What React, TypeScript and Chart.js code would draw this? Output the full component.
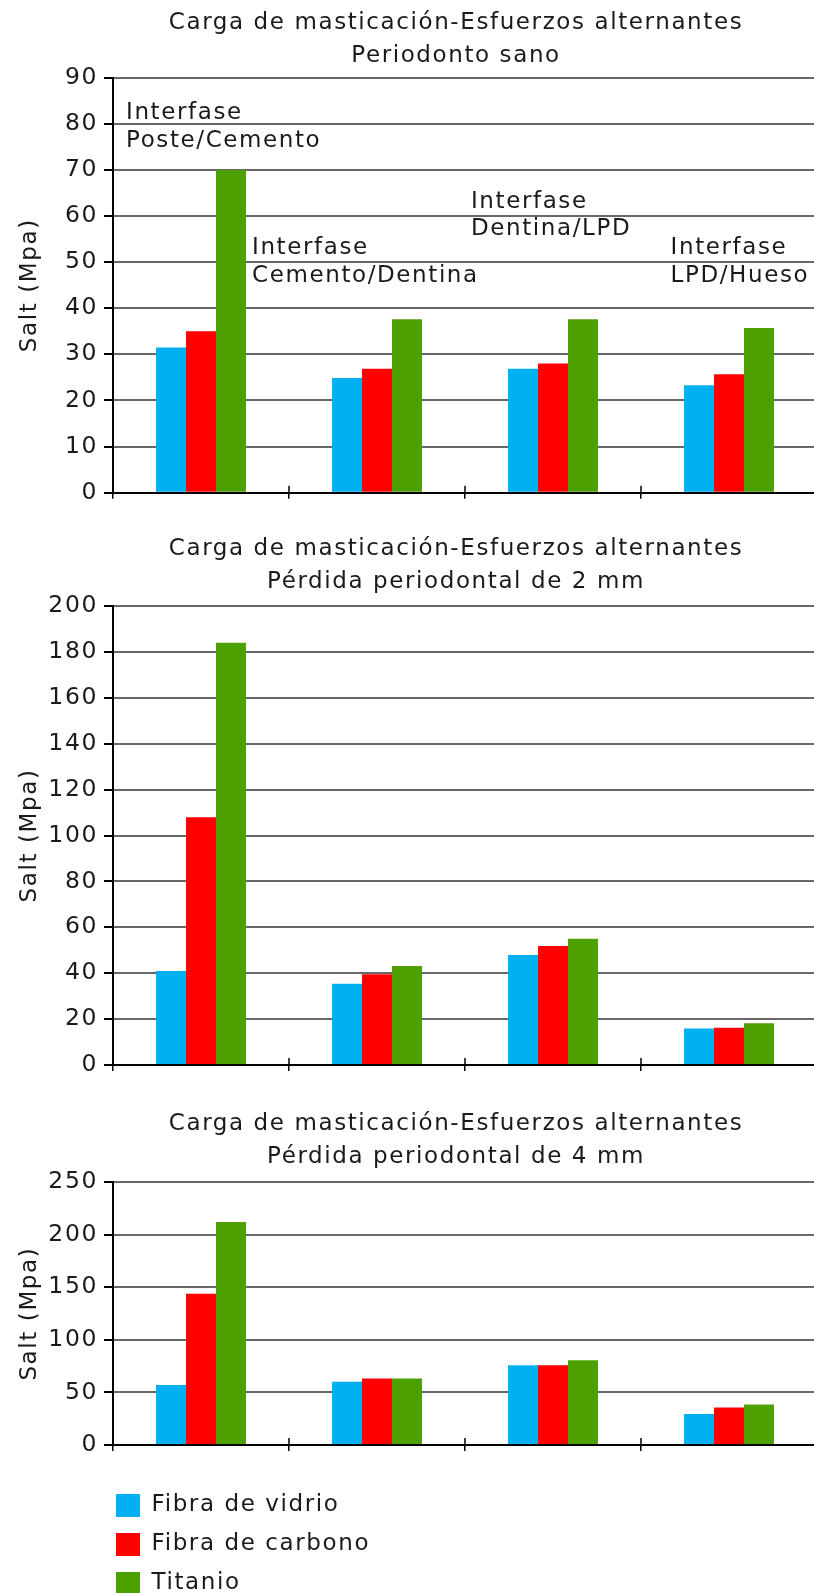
import React, { useEffect, useRef } from 'react';
import { Chart, registerables } from 'chart.js';

Chart.register(...registerables);

// ---- data ----
const categories = [
  'Interfase Poste/Cemento',
  'Interfase Cemento/Dentina',
  'Interfase Dentina/LPD',
  'Interfase LPD/Hueso',
];
const seriesNames = ['Fibra de vidrio', 'Fibra de carbono', 'Titanio'];
const seriesColors = ['#00b0f0', '#ff0000', '#4ca000'];

const mainTitle = 'Carga de masticación-Esfuerzos alternantes';
const subTitles = ['Periodonto sano', 'Pérdida periodontal de 2 mm', 'Pérdida periodontal de 4 mm'];
const yAxisTitle = 'Salt (Mpa)';

const sanoVidrio = [31.5, 24.9, 26.9, 23.3];
const sanoCarbono = [35, 26.9, 28, 25.7];
const sanoTitanio = [70, 37.6, 37.6, 35.7];

const p2Vidrio = [41, 35.4, 47.9, 15.9];
const p2Carbono = [108, 39.5, 51.8, 16.2];
const p2Titanio = [184, 43.1, 55, 18.2];

const p4Vidrio = [57, 60.1, 76, 29.4];
const p4Carbono = [144, 63.3, 76, 35.8];
const p4Titanio = [212.3, 63.3, 80.7, 38.6];

const yMaxes = [90, 200, 250];
const ySteps = [10, 20, 50];

const annotationLines = [
  ['Interfase', 'Poste/Cemento'],
  ['Interfase', 'Cemento/Dentina'],
  ['Interfase', 'Dentina/LPD'],
  ['Interfase', 'LPD/Hueso'],
];
const annotationIndex = [-0.426, 0.29, 1.534, 2.668];
const annotationValue = [81, 51.7, 61.8, 51.7];

// ---- style ----
const FAMILY = '"DejaVu Sans", sans-serif';
const TEXT = '#1a1a1a';
const GRID = '#686868';
const SPACING = '1.6px';
const CANVAS_W = 912;

const spacingPlugin = {
  id: 'letterSpacing',
  beforeLayout(chart: any) {
    chart.ctx.letterSpacing = SPACING;
  },
  beforeDraw(chart: any) {
    chart.ctx.letterSpacing = SPACING;
  },
};

// short tick marks on the category boundaries that cross the x axis line
const crossTickPlugin = {
  id: 'crossTicks',
  afterDraw(chart: any) {
    const { ctx } = chart;
    const x = chart.scales.x;
    const bottom = chart.chartArea.bottom;
    ctx.save();
    ctx.strokeStyle = '#000';
    ctx.lineWidth = 1.5;
    for (let i = 1; i < categories.length; i++) {
      const px = x.getPixelForValue(i - 0.5);
      ctx.beginPath();
      ctx.moveTo(px, bottom - 7);
      ctx.lineTo(px, bottom);
      ctx.stroke();
    }
    ctx.restore();
  },
};

const annotationPlugin = {
  id: 'interfaseLabels',
  afterDatasetsDraw(chart: any) {
    const { ctx } = chart;
    const x = chart.scales.x;
    const y = chart.scales.y;
    ctx.save();
    ctx.font = '23px ' + FAMILY;
    ctx.letterSpacing = SPACING;
    ctx.fillStyle = TEXT;
    ctx.textAlign = 'left';
    ctx.textBaseline = 'alphabetic';
    annotationLines.forEach((lines, i) => {
      const px = x.getPixelForValue(annotationIndex[i]);
      const py = y.getPixelForValue(annotationValue[i]);
      lines.forEach((t, j) => ctx.fillText(t, px, py + j * 27.5));
    });
    ctx.restore();
  },
};

function makeBarChart(
  canvas: HTMLCanvasElement,
  series: number[][],
  sub: string,
  yMax: number,
  yStep: number,
  titleBottom: number,
  xAxisHeight: number,
  extraPlugins: any[]
) {
  return new Chart(canvas, {
    type: 'bar',
    data: {
      labels: categories,
      datasets: series.map((d, i) => ({
        label: seriesNames[i],
        data: d,
        backgroundColor: seriesColors[i],
        borderWidth: 0,
        categoryPercentage: 0.511,
        barPercentage: 1,
      })),
    },
    options: {
      animation: false,
      responsive: false,
      layout: { padding: 0 },
      plugins: {
        legend: { display: false },
        tooltip: { enabled: false },
        title: {
          display: true,
          text: [mainTitle, sub],
          color: TEXT,
          font: { family: FAMILY, size: 23, weight: 'normal', lineHeight: 33 / 23 },
          padding: { top: 6.2, bottom: titleBottom },
        },
      },
      scales: {
        x: {
          ticks: { display: false },
          grid: {
            drawOnChartArea: false,
            offset: true,
            tickLength: 6,
            color: '#000',
            lineWidth: 1.5,
          },
          border: { color: '#000', width: 2 },
          afterFit: (s: any) => {
            s.height = xAxisHeight;
          },
        },
        y: {
          min: 0,
          max: yMax,
          ticks: {
            stepSize: yStep,
            color: TEXT,
            padding: 6,
            font: { family: FAMILY, size: 23.5 },
          },
          grid: {
            color: (c: any) => (c.tick && c.tick.value === 0 ? '#000' : GRID),
            lineWidth: 2,
            tickLength: 9,
            tickColor: '#000',
            tickWidth: 2,
          },
          border: { color: '#000', width: 2 },
          title: {
            display: true,
            text: yAxisTitle,
            color: TEXT,
            font: { family: FAMILY, size: 23, lineHeight: 28 / 23 },
            padding: { top: 16, bottom: 0 },
          },
          afterFit: (s: any) => {
            s.width = 113;
          },
        },
        yRight: {
          position: 'right',
          display: true,
          ticks: { display: false },
          grid: { display: false },
          border: { display: false },
          afterFit: (s: any) => {
            s.width = CANVAS_W - 817;
          },
        },
      },
    } as any,
    plugins: [spacingPlugin, crossTickPlugin, ...extraPlugins],
  });
}

export default function App() {
  const c1 = useRef<HTMLCanvasElement>(null);
  const c2 = useRef<HTMLCanvasElement>(null);
  const c3 = useRef<HTMLCanvasElement>(null);
  const cl = useRef<HTMLCanvasElement>(null);

  useEffect(() => {
    const charts: Chart[] = [];
    charts.push(
      makeBarChart(c1.current!, [sanoVidrio, sanoCarbono, sanoTitanio], subTitles[0], yMaxes[0], ySteps[0], 5.5, 526 - 492.7, [annotationPlugin])
    );
    charts.push(
      makeBarChart(c2.current!, [p2Vidrio, p2Carbono, p2Titanio], subTitles[1], yMaxes[1], ySteps[1], 7.8, 575 - 539, [])
    );
    charts.push(
      makeBarChart(c3.current!, [p4Vidrio, p4Carbono, p4Titanio], subTitles[2], yMaxes[2], ySteps[2], 9.1, 377 - 344, [])
    );
    charts.push(
      new Chart(cl.current!, {
        type: 'bar',
        data: {
          labels: [],
          datasets: seriesNames.map((n, i) => ({
            label: n,
            data: [],
            backgroundColor: seriesColors[i],
            borderWidth: 0,
          })),
        },
        options: {
          animation: false,
          responsive: false,
          layout: { padding: 0 },
          scales: { x: { display: false }, y: { display: false } },
          plugins: {
            tooltip: { enabled: false },
            legend: {
              display: true,
              position: 'left',
              align: 'start',
              labels: {
                boxWidth: 24,
                boxHeight: 23,
                padding: 16,
                color: TEXT,
                font: { family: FAMILY, size: 23 },
              },
            },
          },
        } as any,
        plugins: [spacingPlugin],
      })
    );
    return () => charts.forEach((c) => c.destroy());
  }, []);

  const abs = (left: number, top: number): React.CSSProperties => ({ position: 'absolute', left, top });

  return (
    <div
      style={{
        position: 'absolute',
        left: 0,
        top: 0,
        width: 814,
        height: 1593,
        overflow: 'hidden',
        background: '#fff',
      }}
    >
      <canvas ref={c1} width={CANVAS_W} height={526} style={abs(0, 0)} />
      <canvas ref={c2} width={CANVAS_W} height={575} style={abs(0, 526)} />
      <canvas ref={c3} width={CANVAS_W} height={377} style={abs(0, 1101)} />
      <canvas ref={cl} width={700} height={140} style={abs(100, 1478)} />
    </div>
  );
}
